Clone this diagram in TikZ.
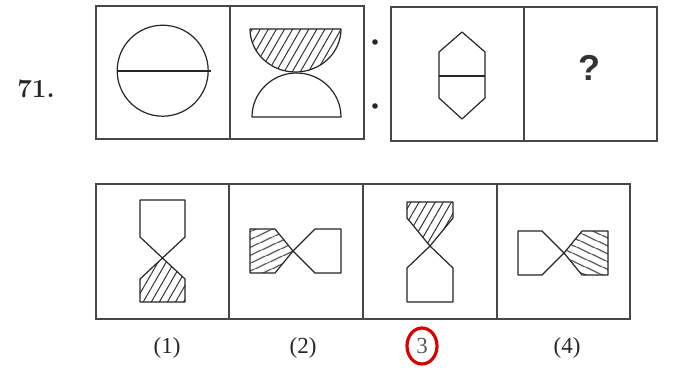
\documentclass[tikz,border=0pt]{standalone}
\usepackage{fontspec}
\newfontfamily\qfont{Liberation Sans}
\newfontfamily\labfont{Liberation Serif}
\usetikzlibrary{patterns.meta}
\begin{document}
\begin{tikzpicture}[x=1pt,y=-1pt,
  frame/.style={draw=black!72,line width=1.5pt},
  fig/.style={draw=black!85,line width=1.2pt,line join=round},
  hatchsteep/.style={pattern={Lines[angle=60,distance=7pt,line width=1pt]},pattern color=black!80},
  hatchup/.style={pattern={Lines[angle=25,distance=6.5pt,line width=1pt]},pattern color=black!80},
  hatchdown/.style={pattern={Lines[angle=-25,distance=6.5pt,line width=1pt]},pattern color=black!80},
  lab/.style={font=\labfont\fontsize{23}{23}\selectfont,text=black!85},
]
\useasboundingbox[fill=white] (0,0) rectangle (675,368);
% frames
\draw[frame] (96,6) rectangle (364,139);
\draw[frame] (230,6) -- (230,139);
\draw[frame] (391,7) rectangle (657,141);
\draw[frame] (524,7) -- (524,141);
\draw[frame] (96,184) rectangle (630,319);
\draw[frame] (229,184) -- (229,319);
\draw[frame] (363,184) -- (363,319);
\draw[frame] (497,184) -- (497,319);
% number
\node[font=\bfseries\fontsize{26}{26}\selectfont,text=black!85] (num) at (36,89) {71.};
% figure A: circle
\draw[fig] (162.7,70.7) circle[radius=45.5];
\draw[fig] (117,71) -- (211,71);
% figure B: bowl and dome
\draw[fig,hatchsteep] (250,29) arc[start angle=180,end angle=0,x radius=45.5,y radius=43] -- cycle;
\draw[fig] (252,117) arc[start angle=180,end angle=360,x radius=44.5,y radius=44] -- cycle;
% dots
\fill[black!85] (375,42) circle[radius=2.8];
\fill[black!85] (375,106) circle[radius=2.8];
% figure C: hexagon
\draw[fig] (462,32) -- (485,52) -- (485,98) -- (462,119) -- (439,98) -- (439,52) -- cycle;
\draw[fig] (439,76) -- (485,76);
% question mark
\node[font=\qfont\bfseries\fontsize{36}{36}\selectfont,text=black!80] (q) at (589,68) {?};
% option 1
\draw[fig] (140,200) -- (185,200) -- (185,237) -- (162.5,258) -- (140,237) -- cycle;
\draw[fig,hatchsteep] (162.5,258) -- (185,279) -- (185,302) -- (140,302) -- (140,279) -- cycle;
% option 2
\draw[fig,hatchup] (250,229) -- (275,229) -- (293,251) -- (275,273) -- (250,273) -- cycle;
\draw[fig] (293,251) -- (315,229) -- (341,229) -- (341,273) -- (315,273) -- cycle;
% option 3
\draw[fig,hatchsteep] (407,202) -- (453,202) -- (453,218) -- (430,246) -- (407,218) -- cycle;
\draw[fig] (430,246) -- (453,268) -- (453,302) -- (407,302) -- (407,268) -- cycle;
% option 4
\draw[fig] (518,231) -- (542,231) -- (564,253) -- (542,275) -- (518,275) -- cycle;
\draw[fig,hatchdown] (564,253) -- (582,231) -- (608,231) -- (608,275) -- (582,275) -- cycle;
% labels
\node[lab] (l1) at (167,348) {(1)};
\node[lab] (l2) at (303,348) {(2)};
\node[lab,text=black!65] (l3) at (422,346) {3};
\draw[red!85!black,line width=3.2pt] (l3.center) ellipse[x radius=15,y radius=18];
\node[lab] (l4) at (567,348) {(4)};
\end{tikzpicture}
\end{document}
